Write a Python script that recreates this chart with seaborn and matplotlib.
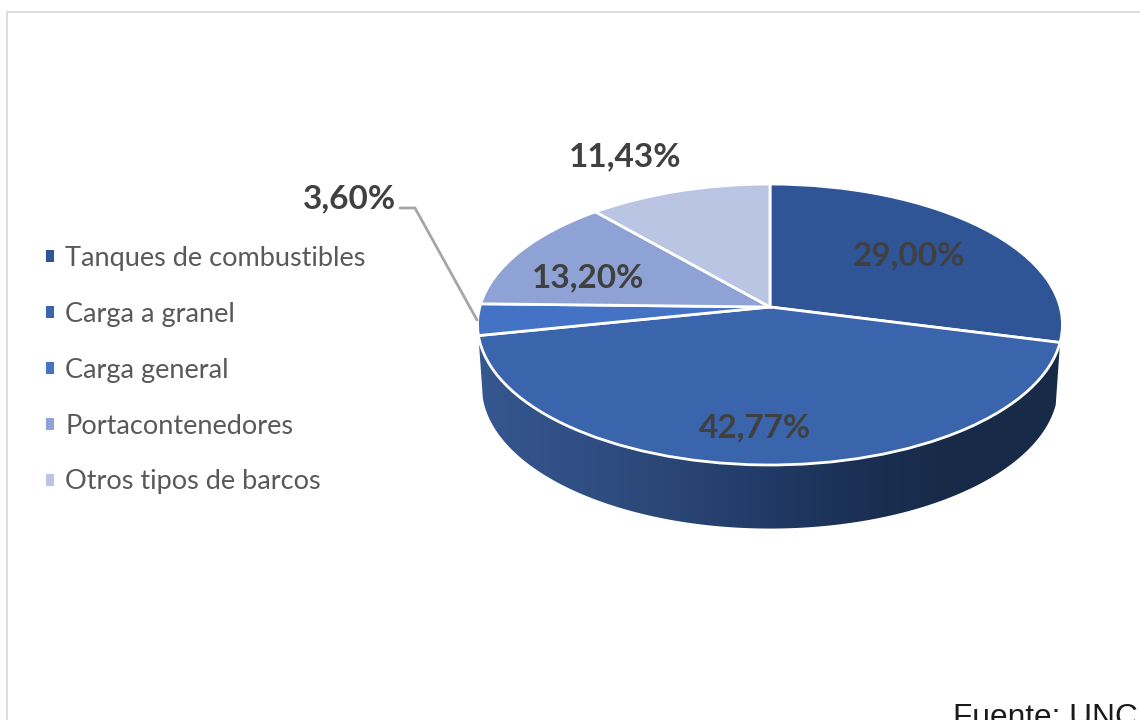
import numpy as np
import matplotlib
matplotlib.use("Agg")
import matplotlib.pyplot as plt
from matplotlib.path import Path
from matplotlib.patches import PathPatch
from matplotlib.transforms import Transform
from matplotlib.colors import LinearSegmentedColormap
import seaborn as sns

# Ship types and their share of the fleet, in percent
categories = ["Tanques de combustibles", "Carga a granel", "Carga general",
              "Portacontenedores", "Otros tipos de barcos"]
shares = [29.00, 42.77, 3.60, 13.20, 11.43]
slice_colors = ["#2F5597", "#3A65AD", "#4472C4", "#8FA2D5", "#B9C5E3"]
wall_shades = ["#35578F", "#304F84", "#2A4675", "#213A66", "#1A2F52", "#172A47", "#172A47"]
source_text = "Fuente: UNC"

sns.set_theme(style="white")
plt.rcParams["font.family"] = ["Lato", "DejaVu Sans"]

W, H = 1140, 720
fig = plt.figure(figsize=(W / 100, H / 100), dpi=100, facecolor="white")
ax = fig.add_axes([0, 0, 1, 1])


class TiltedDisc(Transform):
    """Perspective view of a unit disc lying on a plane tilted towards the viewer."""
    input_dims = output_dims = 2
    is_affine = False
    has_inverse = False

    def __init__(self, cx=770.0, cy=307.0, a=290.2, b=138.3, k=0.1246,
                 sx=1.0, sy=1.0, drop=0.0):
        super().__init__()
        self.p = (cx, cy, a, b, k, sx, sy, drop)

    def transform_non_affine(self, values):
        cx, cy, a, b, k, sx, sy, drop = self.p
        v = np.asarray(values, dtype=float)
        w = 1 + k * v[:, 1]
        return np.column_stack([cx + sx * a * v[:, 0] / w,
                                cy - sy * b * v[:, 1] / w + drop])


top = TiltedDisc()
bottom = TiltedDisc(sx=0.985, sy=1.01, drop=62.0)

wedges, _ = ax.pie(shares, colors=slice_colors, startangle=90, counterclock=False,
                   wedgeprops=dict(edgecolor="white", linewidth=2.0, zorder=3))
for wedge in wedges:
    wedge.set_transform(top + ax.transData)

ax.set_aspect("auto")
ax.set_xlim(0, W)
ax.set_ylim(H, 0)
ax.axis("off")

# Side wall under the front slice, shaded from left to right
front = wedges[1]
angles = np.radians(np.linspace(front.theta1, front.theta2, 200))
rim = np.column_stack([np.cos(angles), np.sin(angles)])
upper = top.transform(rim)
lower = bottom.transform(rim)
outline = np.vstack([upper, lower[::-1], upper[:1]])
wall_clip = PathPatch(Path(outline, closed=True), transform=ax.transData,
                      facecolor="none", edgecolor="none")
ax.add_patch(wall_clip)
wall_cmap = LinearSegmentedColormap.from_list("wall", sns.blend_palette(wall_shades, 32))
ramp = np.linspace(0, 1, 256)[None, :]
wall = ax.imshow(ramp, cmap=wall_cmap, aspect="auto", zorder=2, interpolation="bilinear",
                 extent=(outline[:, 0].min(), outline[:, 0].max(),
                         outline[:, 1].max(), outline[:, 1].min()))
wall.set_clip_path(wall_clip)
ax.set_xlim(0, W)
ax.set_ylim(H, 0)

# Value labels
label_positions = [(909, 256), (755, 428), (349, 199), (588, 278), (625, 157)]
for value, (x, y) in zip(shares, label_positions):
    ax.text(x, y, f"{value:.2f}%".replace(".", ","), ha="center", va="center",
            fontsize=24, fontweight="bold", color="#404040", zorder=5)

# Leader line for the smallest slice
ax.plot([400, 415, 477], [208, 208, 320], color="#A6A6A6", lw=2.0, zorder=4,
        solid_joinstyle="miter")

# Legend on the left
legend = ax.legend(wedges, categories, loc="upper left", bbox_to_anchor=(46 / W, 1 - 246 / H),
                   frameon=False, fontsize=19.5, labelcolor="#595959",
                   handlelength=0.3, handleheight=0.3, handletextpad=0.41,
                   labelspacing=1.14, borderpad=0, borderaxespad=0)
for handle in legend.get_patches():
    handle.set_edgecolor("none")

# Chart frame
ax.plot([7, 7, W + 5], [H + 5, 12, 12], color="#DDDDDD", lw=1.4, zorder=1, clip_on=False)

# Source note
ax.text(953, 725.5, source_text, ha="left", va="baseline", fontsize=22.8,
        family=["Liberation Sans"], color="#1A1A1A", clip_on=True)

fig.savefig("out.png", dpi=100, facecolor="white")
